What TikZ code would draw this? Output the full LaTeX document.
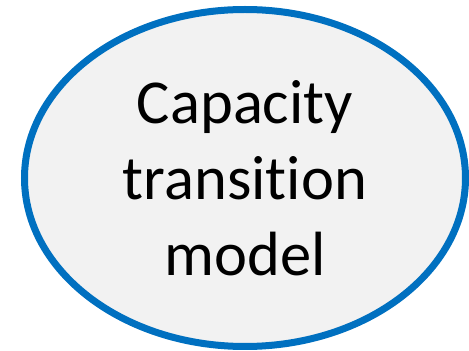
\documentclass[tikz,border=0pt]{standalone}
\usepackage{fontspec}
\setmainfont{Carlito}[Ligatures=NoCommon]
\usetikzlibrary{shapes.geometric}
\definecolor{ringblue}{HTML}{0070C0}
\definecolor{lightfill}{HTML}{F2F2F2}

\begin{document}
\begin{tikzpicture}[x=1pt, y=1pt]
        % Size of the model bubble
        \def\bubblewidth{441}
        \def\bubbleheight{337}

        \useasboundingbox (0,0) rectangle (469,351);

        % The bubble with its label
        \node[ellipse, draw=ringblue, line width=7pt, fill=lightfill,
              minimum width=\bubblewidth pt, minimum height=\bubbleheight pt,
              inner sep=0pt, align=center,
              font=\fontsize{62.5}{76}\selectfont] (model) at (245,173)
              {Capacity\\transition\\model};
    \end{tikzpicture}
\end{document}
